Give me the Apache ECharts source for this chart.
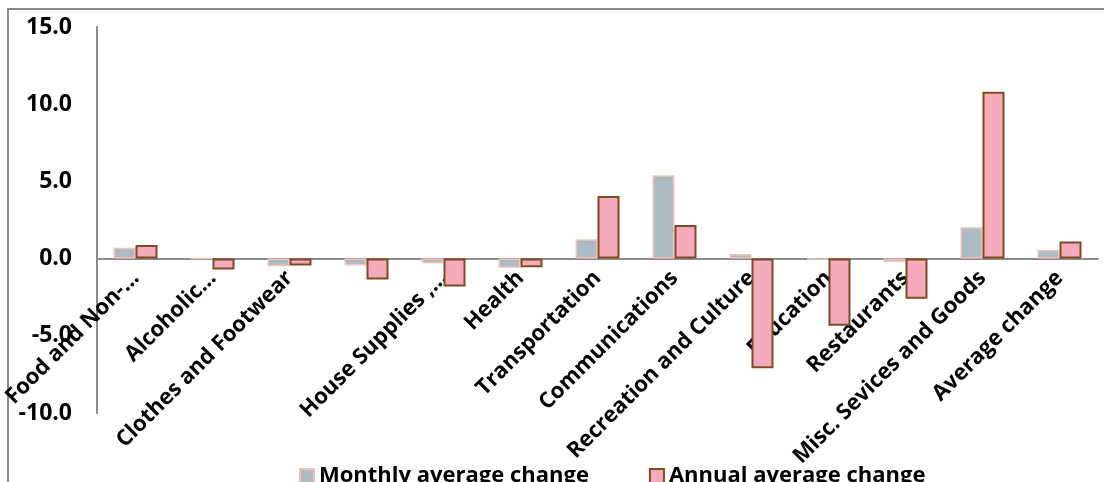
<!DOCTYPE html>
<html>
<head>
<meta charset="utf-8">
<script src="https://cdn.jsdelivr.net/npm/echarts@6/dist/echarts.min.js"></script>
<style>
html,body{margin:0;padding:0;background:#fff;}
#main{width:1104px;height:482px;}
</style>
</head>
<body>
<div id="main"></div>
<script>
const categories = ["Food and Non-…", "Alcoholic…", "Clothes and Footwear", "", "House Supplies ,…", "Health", "Transportation", "Communications", "Recreation and Culture", "Education", "Restaurants", "Misc. Sevices and Goods", "Average change"];
const monthlyValues = [0.7, 0.0, -0.5, -0.45, -0.3, -0.6, 1.25, 5.4, 0.3, -0.05, -0.22, 2.03, 0.56];
const annualValues = [0.88, -0.7, -0.45, -1.35, -1.8, -0.56, 4.05, 2.17, -7.1, -4.35, -2.6, 10.8, 1.1];
const seriesNames = ["Monthly average change", "Annual average change"];
const yTicks = { min: -10, max: 15, interval: 5 };

const gridTop = 27, gridBottom = 69, H = 482;
const plotH = H - gridTop - gridBottom;
const zeroOffset = -plotH * (0 - yTicks.min) / (yTicks.max - yTicks.min);

const chart = echarts.init(document.getElementById('main'));
const font = '"Open Sans", "DejaVu Sans", sans-serif';
chart.setOption({
  animation: false,
  graphic: [{
    type: 'polyline',
    shape: { points: [[8, 482], [8, 9], [1104, 9]] },
    style: { stroke: '#8a8a8a', lineWidth: 2, fill: null },
    silent: true
  }],
  grid: { left: 97, right: 6, top: gridTop, bottom: gridBottom, containLabel: false, outerBoundsMode: 'none' },
  legend: {
    left: 294, top: 460,
    icon: 'rect',
    itemWidth: 14, itemHeight: 14, itemGap: 60,
    textStyle: { fontFamily: font, fontWeight: 'bold', fontSize: 22, color: '#000' },
    data: seriesNames
  },
  xAxis: {
    type: 'category',
    data: categories,
    offset: zeroOffset,
    axisLine: { onZero: false, lineStyle: { color: '#8c8c8c', width: 2 } },
    axisTick: { show: false },
    axisLabel: {
      interval: 0, rotate: 45, margin: 16, hideOverlap: false,
      fontFamily: font, fontWeight: 'bold', fontSize: 22, color: '#000'
    }
  },
  yAxis: {
    type: 'value',
    min: yTicks.min, max: yTicks.max, interval: yTicks.interval,
    axisLine: { show: true, lineStyle: { color: '#8c8c8c', width: 2 } },
    axisTick: { show: false },
    splitLine: { show: false },
    axisLabel: {
      margin: 25,
      formatter: v => v.toFixed(1),
      fontFamily: font, fontWeight: 'bold', fontSize: 23, color: '#000'
    }
  },
  series: [
    {
      name: seriesNames[0], type: 'bar', data: monthlyValues,
      barWidth: 22, barGap: '0%',
      itemStyle: { color: '#adbcc4', borderColor: '#f3c2b8', borderWidth: 1.5 }
    },
    {
      name: seriesNames[1], type: 'bar', data: annualValues,
      barWidth: 22, barGap: '0%',
      itemStyle: { color: '#f5aabb', borderColor: '#7d4b22', borderWidth: 2 }
    }
  ]
});
</script>
</body>
</html>
